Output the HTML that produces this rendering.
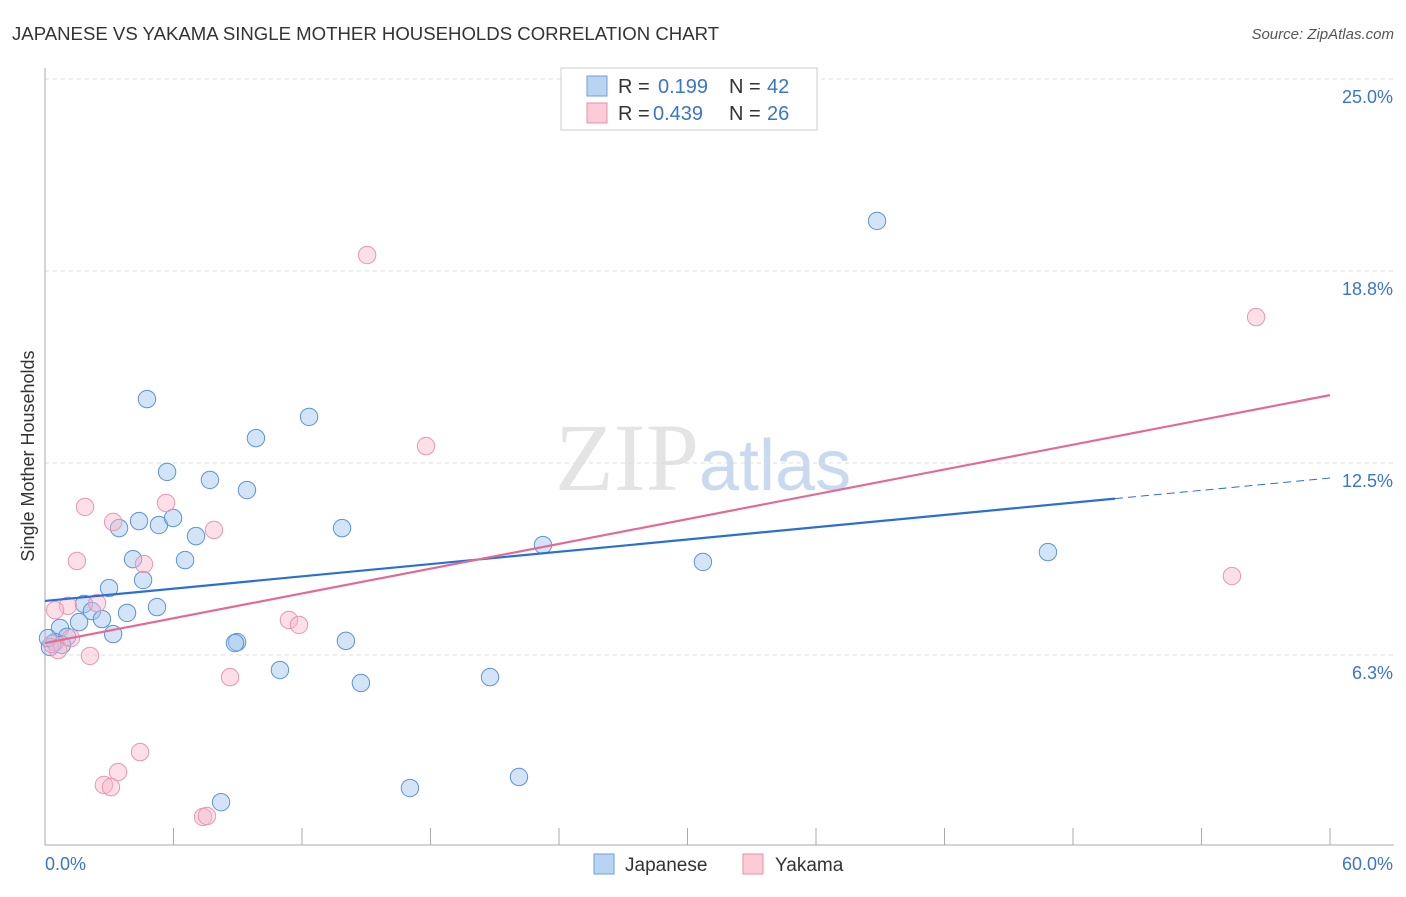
<!DOCTYPE html>
<html><head><meta charset="utf-8"><style>
body{margin:0;background:#fff;font-family:"Liberation Sans",sans-serif}
</style></head><body>
<svg id="chart" width="1406" height="892" xmlns="http://www.w3.org/2000/svg" font-family="Liberation Sans, sans-serif">
<text x="12" y="40" font-size="18.6" fill="#333">JAPANESE VS YAKAMA SINGLE MOTHER HOUSEHOLDS CORRELATION CHART</text>
<text x="1394" y="39" font-size="15" fill="#555" text-anchor="end" font-style="italic">Source: ZipAtlas.com</text>
<text x="555" y="490" font-size="96" fill="#e4e4e4" font-family="Liberation Serif, serif">ZIP<tspan fill="#c9daf0" font-family="Liberation Sans, sans-serif" font-size="72">atlas</tspan></text>
<text transform="translate(34,456) rotate(-90)" font-size="18" fill="#333" text-anchor="middle">Single Mother Households</text>
<g id="grid"></g><g id="axes"></g><g id="marks"></g>
<g font-size="20">
<rect x="561" y="68" width="256" height="62" fill="#fff" stroke="#ccc"/>
<rect x="587" y="76" width="20" height="20" fill="#b9d4f3" stroke="#6a9fe0"/>
<text x="618" y="93" fill="#333">R =</text><text x="658" y="93" fill="#3a74d0">0.199</text>
<text x="729" y="93" fill="#333">N =</text><text x="767" y="93" fill="#3a74d0">42</text>
<rect x="587" y="103" width="20" height="20" fill="#fbcbd8" stroke="#eb8fab"/>
<text x="618" y="120" fill="#333">R =</text><text x="653" y="120" fill="#3a74d0">0.439</text>
<text x="729" y="120" fill="#333">N =</text><text x="767" y="120" fill="#3a74d0">26</text>
</g>
<g>
<rect x="594" y="854" width="20" height="20" fill="#b9d4f3" stroke="#6a9fe0"/>
<text x="625" y="871" font-size="19" fill="#333">Japanese</text>
<rect x="743" y="854" width="20" height="20" fill="#fbcbd8" stroke="#eb8fab"/>
<text x="775" y="871" font-size="19" fill="#333">Yakama</text>
</g>
</svg>
<script>
const yTicks=[6.25,12.5,18.75,25];
const yTickLabels=["6.3%","12.5%","18.8%","25.0%"];
const xEnds=[0,60];
const xEndLabels=["0.0%","60.0%"];
const japX=[4.76,5.70,7.70,9.43,9.85,12.33,4.39,3.46,5.32,5.98,7.05,4.11,6.54,4.58,2.99,5.23,3.83,1.82,2.19,2.66,1.59,0.70,1.03,3.18,0.47,0.23,8.97,8.87,10.97,14.05,14.75,13.87,8.22,17.04,22.13,20.78,23.25,30.72,38.85,46.83,0.14,0.79];
const japY=[14.58,12.21,11.95,11.62,13.31,14.00,10.61,10.38,10.48,10.71,10.12,9.37,9.34,8.69,8.43,7.81,7.62,7.91,7.68,7.42,7.32,7.13,6.84,6.93,6.67,6.51,6.67,6.64,5.76,6.71,5.34,10.38,1.46,1.92,2.28,5.53,9.83,9.28,20.38,9.60,6.80,6.58];
const yakX=[15.04,56.55,17.79,1.87,5.65,7.89,3.18,4.62,1.49,2.43,1.07,0.47,1.21,0.61,2.10,11.39,11.86,8.64,55.42,4.44,3.41,2.75,3.08,7.38,7.56,0.33];
const yakY=[19.27,17.25,13.05,11.07,11.20,10.32,10.58,9.21,9.31,7.94,7.85,7.71,6.80,6.41,6.22,7.39,7.23,5.53,8.82,3.09,2.44,2.02,1.95,0.98,1.01,6.61];
const japLine=[8.01,12.01]; const japSolidEnd=49.96;
const yakLine=[6.64,14.71];
const X=v=>45+v*1285/60, Y=v=>463-(v-12.5)*30.72;
const NS="http://www.w3.org/2000/svg";
function mk(p,t,a){const e=document.createElementNS(NS,t);for(const k in a)e.setAttribute(k,a[k]);document.querySelector(p).appendChild(e);return e;}
yTicks.forEach((t,i)=>{
 const l=mk('#grid','line',{x1:45,x2:1394,y1:Y(t),y2:Y(t),stroke:'#ddd','stroke-dasharray':'4,4'});
 
 
 const tx=mk('#grid','text',{x:1393,y:Y(t)+24,'font-size':18,fill:'#3a74d0','text-anchor':'end'});tx.textContent=yTickLabels[i];
 
 
});
mk('#axes','line',{x1:45,x2:45,y1:68,y2:845,stroke:'#aaa'});
mk('#axes','line',{x1:45,x2:1394,y1:845,y2:845,stroke:'#aaa'});
for(let i=0;i<=10;i++){const x=X(i*6);mk('#axes','line',{x1:x,x2:x,y1:828,y2:845,stroke:'#aaa'});}
xEnds.forEach((v,i)=>{const t=mk('#axes','text',{x:i?1393:45,y:870,'font-size':18,fill:'#3a74d0','text-anchor':i?'end':'start'});t.textContent=xEndLabels[i];
 
 });
japX.forEach((v,i)=>{const c=mk('#marks','circle',{cx:X(v),cy:Y(japY[i]),r:8.7,fill:'rgba(160,196,238,0.45)',stroke:'#5b93db','stroke-width':1});
 
 });
yakX.forEach((v,i)=>{const c=mk('#marks','circle',{cx:X(v),cy:Y(yakY[i]),r:8.7,fill:'rgba(248,184,202,0.45)',stroke:'#eb95b0','stroke-width':1});
 
 });
const jy=x=>japLine[0]+(japLine[1]-japLine[0])*x/60;
const l1=mk('#marks','line',{x1:X(0),y1:Y(jy(0)),x2:X(japSolidEnd),y2:Y(jy(japSolidEnd)),stroke:'#2a6fd6','stroke-width':2.2});


const l2=mk('#marks','line',{x1:X(japSolidEnd),y1:Y(jy(japSolidEnd)),x2:X(60),y2:Y(jy(60)),stroke:'#2a6fd6','stroke-width':1,'stroke-dasharray':'8,5'});


const l3=mk('#marks','line',{x1:X(0),y1:Y(yakLine[0]),x2:X(60),y2:Y(yakLine[1]),stroke:'#e26b96','stroke-width':2.2});


</script>
</body></html>
